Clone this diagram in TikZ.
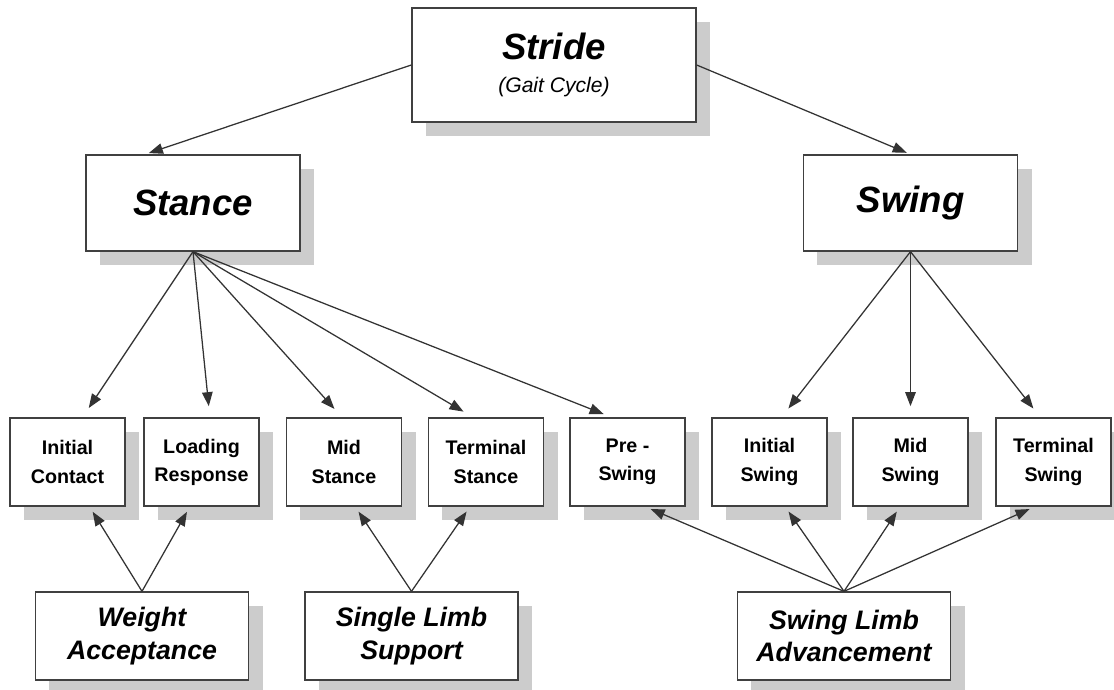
\documentclass[tikz,border=0pt]{standalone}
\usepackage{fontspec}
\setmainfont{Liberation Sans}
\usepackage{tikz}
\usetikzlibrary{arrows.meta,shadows}

\tikzset{
  box/.style={draw=black!75, line width=0.9pt, fill=white, align=center, inner sep=0pt,
    drop shadow={shadow xshift=0.35cm, shadow yshift=-0.36cm, fill=black!20, opacity=1}},
  bigbox/.style={box, minimum width=5.35cm, minimum height=2.4cm,
    font=\fontsize{26}{30}\selectfont\bfseries\itshape},
  phase/.style={box, minimum width=2.875cm, minimum height=2.2cm,
    font=\fontsize{14}{20}\selectfont\bfseries},
  task/.style={box, minimum width=5.33cm, minimum height=2.2cm,
    font=\fontsize{19}{23}\selectfont\bfseries\itshape},
  link/.style={draw=black!80, line width=0.9pt, -{Triangle[length=10pt,width=7.5pt]}},
}

\begin{document}
\begin{tikzpicture}[x=0.025cm, y=0.025cm]
    \useasboundingbox (0,0) rectangle (1114,690);

    % top levels
    \node [bigbox, minimum width=7.1cm, minimum height=2.85cm] (stride) at (554,625)
      {Stride\\[-6pt]{\fontsize{15}{18}\selectfont\mdseries (Gait Cycle)}};
    \node [bigbox] (stance) at (193,487) {Stance};
    \node [bigbox] (swing) at (910.5,487) {Swing};

    % phases
    \node [phase] (ic) at (67.5,228) {Initial\\Contact};
    \node [phase] (lr) at (201.5,228) {Loading\\Response};
    \node [phase] (ms) at (344,228) {Mid\\Stance};
    \node [phase] (ts) at (486,228) {Terminal\\Stance};
    \node [phase] (ps) at (627.5,228) {Pre -\\Swing};
    \node [phase] (is) at (769.5,228) {Initial\\Swing};
    \node [phase] (msw) at (910.5,228) {Mid\\Swing};
    \node [phase] (tsw) at (1053.5,228) {Terminal\\Swing};

    % tasks
    \node [task] (wa) at (142,54) {Weight\\Acceptance};
    \node [task] (sls) at (411.5,54) {Single Limb\\Support};
    \node [task] (sla) at (844,54) {Swing Limb\\Advancement};

    \draw [link, shorten >=0.1cm] (stride.west) -- ([xshift=-1.2cm]stance.north);
    \draw [link, shorten >=0.1cm] (stride.east) -- (swing.north);

    \draw [link, shorten >=0.28cm] (stance.south) -- ([xshift=0.375cm]ic.north);
    \draw [link, shorten >=0.28cm] (stance.south) -- ([xshift=0.21cm]lr.north);
    \draw [link, shorten >=0.28cm] (stance.south) -- ([xshift=-0.05cm]ms.north);
    \draw [link, shorten >=0.28cm] (stance.south) -- ([xshift=-0.32cm]ts.north);
    \draw [link, shorten >=0.22cm] (stance.south) -- ([xshift=-0.39cm]ps.north);

    \draw [link, shorten >=0.28cm] (swing.south) -- ([xshift=0.3cm]is.north);
    \draw [link, shorten >=0.28cm] (swing.south) -- (msw.north);
    \draw [link, shorten >=0.28cm] (swing.south) -- ([xshift=-0.33cm]tsw.north);

    \draw [link, shorten >=0.15cm] (wa.north) -- ([xshift=0.55cm]ic.south);
    \draw [link, shorten >=0.15cm] (wa.north) -- ([xshift=-0.29cm]lr.south);
    \draw [link, shorten >=0.15cm] (sls.north) -- ([xshift=0.28cm]ms.south);
    \draw [link, shorten >=0.15cm] (sls.north) -- ([xshift=-0.4cm]ts.south);
    \draw [link, shorten >=0.15cm] (sla.north) -- ([xshift=0.44cm]ps.south);
    \draw [link, shorten >=0.15cm] (sla.north) -- ([xshift=0.39cm]is.south);
    \draw [link, shorten >=0.15cm] (sla.north) -- ([xshift=-0.26cm]msw.south);
    \draw [link, shorten >=0.15cm] (sla.north) -- ([xshift=-0.46cm]tsw.south);
\end{tikzpicture}
\end{document}
